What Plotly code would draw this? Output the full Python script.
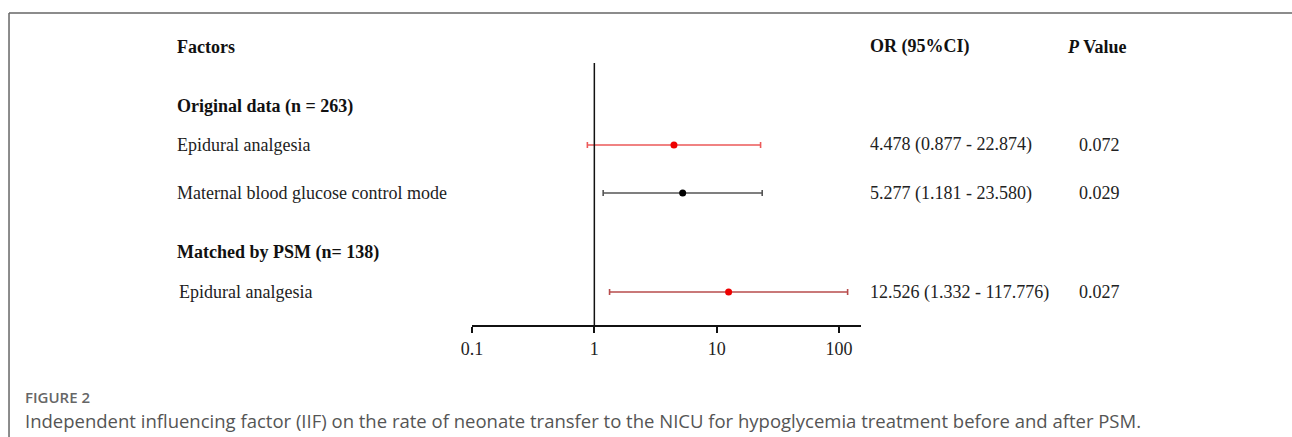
import plotly.graph_objects as go

# ---- data ----
factors = ["Epidural analgesia", "Maternal blood glucose control mode", "Epidural analgesia"]
groups = ["Original data (n = 263)", "Matched by PSM (n= 138)"]
or_vals = [4.478, 5.277, 12.526]
ci_low = [0.877, 1.181, 1.332]
ci_high = [22.874, 23.580, 117.776]
p_vals = ["0.072", "0.029", "0.027"]
or_text = ["4.478 (0.877 - 22.874)", "5.277 (1.181 - 23.580)", "12.526 (1.332 - 117.776)"]
tick_vals = [0.1, 1, 10, 100]
tick_text = ["0.1", "1", "10", "100"]

# ---- layout helpers (pixel positions) ----
W, H = 1292, 437
DX = -7
row_px = [145, 193, 292]
group_px = [106, 252]
line_colors = ["#ec5a5a", "#555555", "#b84c4c"]
dot_colors = ["#ee0000", "#000000", "#ee0000"]

def px(x):
    return (x + DX) / W

def py(y):
    return 1 - y / H

SERIF = "Liberation Serif"
SANS = "Open Sans"

fig = go.Figure()
for i in range(len(or_vals)):
    fig.add_trace(go.Scatter(
        x=[or_vals[i]], y=[row_px[i]], mode="markers",
        marker=dict(color=dot_colors[i], size=7),
        error_x=dict(type="data", symmetric=False,
                     array=[ci_high[i] - or_vals[i]],
                     arrayminus=[or_vals[i] - ci_low[i]],
                     color=line_colors[i], thickness=1.6, width=3),
        showlegend=False, hoverinfo="skip"))

ax_left, ax_right = 472, 864
ax_top, ax_bottom = 63, 325
fig.update_layout(
    width=W, height=H, margin=dict(l=0, r=0, t=0, b=0),
    paper_bgcolor="white", plot_bgcolor="white",
    xaxis=dict(type="log", range=[-1, 2.178], domain=[px(ax_left), px(ax_right)],
               tickvals=tick_vals, ticktext=tick_text, ticks="outside", ticklen=6,
               tickwidth=1.5, tickcolor="#111", showline=True, linecolor="#111",
               linewidth=2, showgrid=False, zeroline=False,
               tickfont=dict(family=SERIF, size=18, color="#222")),
    yaxis=dict(range=[ax_bottom, ax_top], domain=[py(ax_bottom), py(ax_top)],
               visible=False, showgrid=False, zeroline=False),
)

fig.add_shape(type="line", xref="x", yref="y", x0=1, x1=1, y0=ax_top, y1=ax_bottom,
              line=dict(color="#111", width=1.5))

frame_x = 5
fig.add_shape(type="line", xref="paper", yref="paper", x0=px(frame_x), x1=1, y0=py(13), y1=py(13),
              line=dict(color="#666", width=1.5))
fig.add_shape(type="line", xref="paper", yref="paper", x0=px(frame_x), x1=px(frame_x), y0=py(13), y1=0,
              line=dict(color="#666", width=1.5))

def txt(x, y, s, size=18, bold=False, color="#222", family=SERIF, anchor="left", weight=None):
    if bold:
        s = "<b>" + s + "</b>"
    f = dict(family=family, size=size, color=color)
    if weight:
        f["weight"] = weight
    fig.add_annotation(x=px(x), y=py(y), xref="paper", yref="paper", text=s,
                       showarrow=False, xanchor=anchor, yanchor="middle", font=f)

lx = 172
txt(lx, 47, "Factors", bold=True, color="#111")
txt(871, 47, "OR (95%CI)", bold=True, color="#111")
txt(1070, 47, "<i>P</i> Value", bold=True, color="#111")

txt(lx, group_px[0], groups[0], bold=True, color="#111")
txt(lx, group_px[1], groups[1], bold=True, color="#111")

label_x = [lx, lx, lx + 2]
for i in range(len(factors)):
    txt(label_x[i], row_px[i], factors[i])
    txt(871, row_px[i], or_text[i])
    txt(1105, row_px[i], p_vals[i], anchor="center")

txt(19, 397, "FIGURE 2", size=15, color="#666", family=SANS, weight=600)
txt(19, 420, "Independent influencing factor (IIF) on the rate of neonate transfer to the NICU for hypoglycemia treatment before and after PSM.",
    size=18.5, color="#555", family=SANS)

fig.write_html("out.html", config={"displayModeBar": False},
               post_script="document.body.style.margin='0';document.body.style.overflow='hidden';")
